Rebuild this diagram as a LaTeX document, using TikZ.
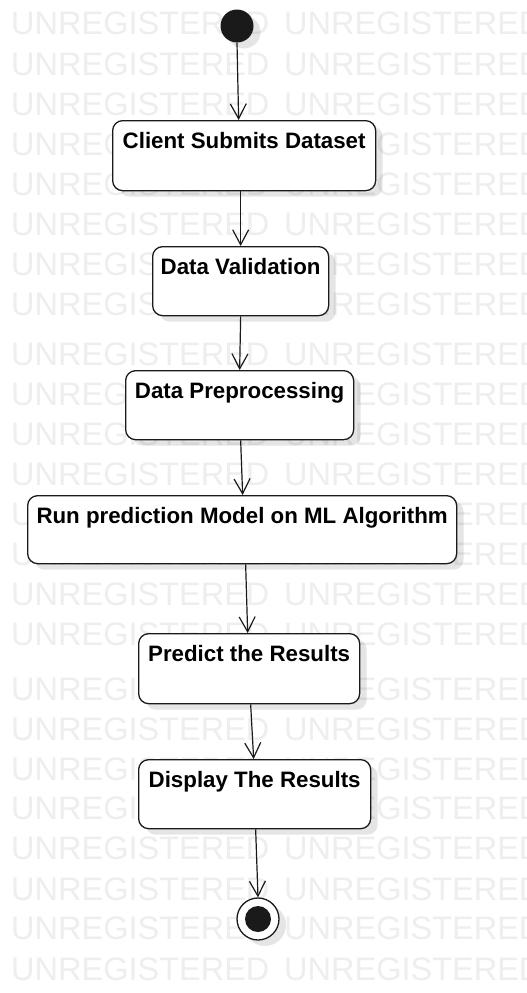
\documentclass[tikz,border=0pt]{standalone}
\usepackage{fontspec}
\setmainfont{Liberation Sans}
\usetikzlibrary{arrows.meta,shadows}
\definecolor{wmtext}{HTML}{EEEEEE}
\definecolor{ink}{HTML}{1A1A1A}

\begin{document}
\begin{tikzpicture}[x=1pt,y=-1pt,
  softshadow/.style={drop shadow={shadow xshift=7pt,shadow yshift=-6pt,opacity=0.1,fill=black}},
  actbox/.style={draw=ink, line width=1.3pt, rounded corners=10pt, fill=white,
    anchor=north west, inner sep=0pt, softshadow},
  caption/.style={font=\bfseries\fontsize{22.3}{25}\selectfont, anchor=base, inner sep=0pt},
  wm/.style={font=\fontsize{32.5}{34}\selectfont, text=wmtext, anchor=base west, inner sep=0pt},
  flow/.style={draw=ink, line width=1.2pt,
    -{Straight Barb[length=15pt,width=16pt,line width=1.2pt]}}]

\useasboundingbox (0,0) rectangle (527,993);
\fill[white] (0,0) rectangle (527,993);

% watermark rows
\foreach \y [count=\i] in {34,75,115,155,195,235,275,315,365,405,445,485,525,565,605,645,700,740,780,819,859,900,939,980}{
  \node[wm] (wmA\i) at (11,\y) {UNREGISTERED};
  \node[wm] (wmB\i) at (284,\y) {UNREGISTERED};
}

% initial and final states
\node[circle, fill=ink, minimum size=33pt, inner sep=0pt, softshadow] (start) at (237,26) {};
\node[circle, draw=ink, line width=1.3pt, fill=white, minimum size=42pt, inner sep=0pt, softshadow] (stop) at (258,919) {};
\node[circle, fill=ink, minimum size=26pt, inner sep=0pt] (stopdot) at (stop.center) {};

% activities
\node[actbox, minimum width=263pt, minimum height=70pt] (b1) at (112,120) {};
\node[caption] (t1) at ([yshift=-28pt]b1.north) {Client Submits Dataset};

\node[actbox, minimum width=176pt, minimum height=69pt] (b2) at (152,246) {};
\node[caption] (t2) at ([yshift=-28pt]b2.north) {Data Validation};

\node[actbox, minimum width=228pt, minimum height=69pt] (b3) at (125,370) {};
\node[caption] (t3) at ([yshift=-28pt]b3.north) {Data Preprocessing};

\node[actbox, minimum width=429pt, minimum height=68pt] (b4) at (27,495) {};
\node[caption] (t4) at ([yshift=-28pt]b4.north) {Run prediction Model on ML Algorithm};

\node[actbox, minimum width=221pt, minimum height=70pt] (b5) at (138,633) {};
\node[caption] (t5) at ([yshift=-28pt]b5.north) {Predict the Results};

\node[actbox, minimum width=232pt, minimum height=69pt] (b6) at (138,759) {};
\node[caption] (t6) at ([yshift=-28pt]b6.north) {Display The Results};

% control flow
\draw[flow] (start.south) -- ([xshift=-5.5pt]b1.north);
\draw[flow] ([xshift=-3.5pt]b1.south) -- (b2.north);
\draw[flow] (b2.south) -- (b3.north);
\draw[flow] ([xshift=1pt]b3.south) -- ([xshift=0.5pt]b4.north);
\draw[flow] ([xshift=3.5pt]b4.south) -- ([xshift=-1.5pt]b5.north);
\draw[flow] ([xshift=1.5pt]b5.south) -- ([xshift=-1pt]b6.north);
\draw[flow] ([xshift=1pt]b6.south) -- (stop.north);
\end{tikzpicture}
\end{document}
